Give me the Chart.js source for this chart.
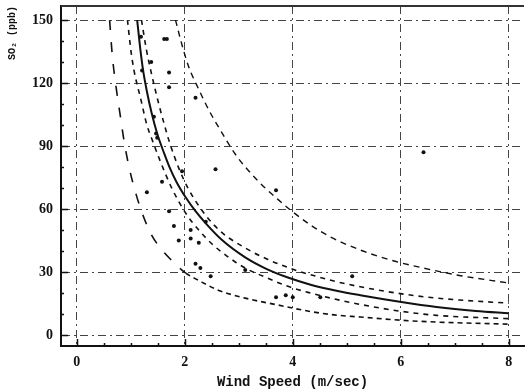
<!DOCTYPE html>
<html>
<head>
<meta charset="utf-8">
<script src="https://cdn.jsdelivr.net/npm/chart.js@4.4.1/dist/chart.umd.min.js"></script>
<style>
    html, body { margin: 0; padding: 0; background: #fff; }
    canvas { display: block; }
</style>
</head>
<body>
<canvas id="windChart" width="528" height="392"></canvas>
<script>
// tick labels
const xTicks = [0, 2, 4, 6, 8];
const yTicks = [0, 30, 60, 90, 120, 150];

// fitted curve (solid)
const fitWind = [1.12, 1.17, 1.23, 1.30, 1.39, 1.49, 1.62, 1.71, 1.85, 2.02, 2.2, 2.39, 2.68, 3.12, 3.49, 3.91, 4.33, 4.83, 5.25, 5.98, 6.66, 7.39, 8.0];
const fitSo2 = [150, 138, 126, 116, 105.5, 96, 86.5, 80.5, 72.8, 65.5, 59, 53.2, 45.5, 37, 31.8, 27.4, 24, 21, 19, 15.9, 13.4, 11.5, 10.4];

// upper confidence band
const upConfWind = [1.20, 1.29, 1.38, 1.52, 1.62, 1.71, 1.89, 2.07, 2.39, 2.68, 3.12, 3.54, 4.04, 4.46, 4.83, 5.25, 5.87, 6.48, 7.08, 8.0];
const upConfSo2 = [150, 136, 125, 110, 100.5, 92.5, 79.5, 69.5, 57, 49, 41.5, 36, 31, 27.8, 25.3, 23, 20.2, 18.1, 16.7, 15.2];

// lower confidence band
const lowConfWind = [0.94, 1.01, 1.06, 1.19, 1.30, 1.39, 1.56, 1.76, 2.02, 2.26, 2.50, 2.81, 3.12, 3.49, 3.91, 4.33, 4.77, 5.25, 5.98, 6.66, 8.0];
const lowConfSo2 = [150, 134.3, 126.2, 112, 100, 93.5, 82, 70, 58, 50, 43.5, 37.1, 31.9, 27.6, 23.2, 20, 17.2, 14.6, 11.4, 9.4, 7.8];

// upper prediction band
const upPredWind = [1.83, 1.93, 2.07, 2.26, 2.45, 2.65, 2.94, 3.17, 3.49, 3.73, 3.96, 4.33, 4.70, 5.25, 5.80, 6.42, 7.08, 8.0];
const upPredSo2 = [150, 140, 128, 117, 107, 98, 86, 78.6, 70, 64.5, 59.5, 52.4, 46.7, 40.5, 35.8, 31.9, 28.4, 24.8];

// lower prediction band
const lowPredWind = [0.61, 0.66, 0.73, 0.81, 0.88, 0.97, 1.10, 1.25, 1.39, 1.58, 1.76, 2.02, 2.26, 2.62, 3.12, 3.73, 4.33, 4.77, 5.25, 5.98, 6.66, 8.0];
const lowPredSo2 = [150, 133, 118, 104, 92, 80, 67, 55.5, 47.5, 40.5, 35.5, 29.5, 26, 21.4, 17.6, 14.3, 11.2, 9.6, 8.6, 7.1, 6.2, 5.2];

// observations
const obsWind = [1.19, 1.62, 1.67, 1.38, 1.21, 1.71, 1.71, 2.2, 1.43, 1.47, 1.49, 1.58, 1.30, 1.95, 1.71, 1.80, 2.11, 2.11, 1.89, 2.26, 2.2, 2.29, 3.69, 2.39, 2.48, 3.12, 3.69, 3.87, 4.0, 4.51, 2.57, 5.1, 6.42];
const obsSo2 = [142, 141, 141, 130, 126, 125, 118, 113, 104, 96, 94, 73, 68, 78, 59, 52, 50, 46, 45, 44, 34, 32, 69, 54, 28, 31, 18, 19, 18, 18, 79, 28, 87];

function pts(xs, ys) {
    return xs.map((x, i) => ({ x: x, y: ys[i] }));
}

function curve(xs, ys, dash, width) {
    return {
        type: 'line',
        data: pts(xs, ys),
        borderColor: '#111',
        borderWidth: width,
        borderDash: dash,
        pointRadius: 0,
        cubicInterpolationMode: 'monotone',
        fill: false
    };
}

// small ticks drawn inside the axes + top frame line
const innerTicks = {
    id: 'innerTicks',
    afterDraw(chart) {
        const { ctx, chartArea: a, scales: { x, y } } = chart;
        ctx.save();
        ctx.strokeStyle = '#111';
        ctx.lineWidth = 1.5;
        ctx.beginPath();
        for (let v = 0; v <= 8.01; v += 0.5) {
            const px = Math.round(x.getPixelForValue(v)) + 0.5;
            const len = (v % 2 === 0) ? 7 : 3;
            ctx.moveTo(px, a.bottom);
            ctx.lineTo(px, a.bottom - len);
        }
        for (let v = 0; v <= 150; v += 10) {
            const py = Math.round(y.getPixelForValue(v)) + 0.5;
            const len = (v % 30 === 0) ? 7 : 3;
            ctx.moveTo(a.left, py);
            ctx.lineTo(a.left + len, py);
        }
        ctx.stroke();
        // top frame
        ctx.lineWidth = 2;
        ctx.strokeStyle = '#333';
        ctx.beginPath();
        ctx.moveTo(a.left, a.top);
        ctx.lineTo(a.right, a.top);
        ctx.stroke();
        ctx.restore();
    }
};

const lowPred = curve(lowPredWind, lowPredSo2, [5, 4], 1.6);
lowPred.segment = {
    borderDash: c => c.p0.parsed.x < 1.95 ? [10, 12] : [5, 4]
};

const ctx = document.getElementById('windChart').getContext('2d');
const windChart = new Chart(ctx, {
    data: {
        datasets: [
            curve(fitWind, fitSo2, [], 2),
            curve(upConfWind, upConfSo2, [5, 5], 1.6),
            curve(lowConfWind, lowConfSo2, [5, 5], 1.6),
            curve(upPredWind, upPredSo2, [6, 5], 1.4),
            lowPred,
            {
                type: 'scatter',
                data: pts(obsWind, obsSo2),
                backgroundColor: '#111',
                borderColor: '#111',
                pointRadius: 2,
                pointBorderWidth: 0
            }
        ]
    },
    options: {
        responsive: false,
        animation: false,
        layout: { padding: { top: 6, right: 0, left: 0, bottom: 0 } },
        plugins: {
            legend: { display: false },
            tooltip: { enabled: false }
        },
        scales: {
            x: {
                type: 'linear',
                min: -0.29,
                max: 8.28,
                afterBuildTicks: s => { s.ticks = xTicks.map(v => ({ value: v })); },
                afterFit: s => { s.height = 46; s.paddingLeft = 0; s.paddingRight = 0; },
                grid: { color: '#444', lineWidth: 1, drawTicks: false },
                border: { display: true, color: '#111', width: 2, dash: [8, 4, 2, 4] },
                ticks: {
                    color: '#111',
                    padding: 8,
                    maxRotation: 0,
                    font: { family: 'Liberation Serif', size: 14, weight: 'bold' }
                },
                title: {
                    display: true,
                    text: 'Wind Speed (m/sec)',
                    color: '#111',
                    padding: { top: 0, bottom: 1 },
                    font: { family: 'Liberation Mono', size: 14, weight: 'bold' }
                }
            },
            y: {
                type: 'linear',
                min: -5.2,
                max: 156.7,
                afterBuildTicks: s => { s.ticks = yTicks.map(v => ({ value: v })); },
                afterFit: s => { s.width = 61; s.paddingTop = 0; s.paddingBottom = 0; },
                grid: { color: '#444', lineWidth: 1, drawTicks: false },
                border: { display: true, color: '#111', width: 2, dash: [8, 4, 2, 4] },
                ticks: {
                    color: '#111',
                    padding: 8,
                    font: { family: 'Liberation Serif', size: 14, weight: 'bold' }
                },
                title: {
                    display: true,
                    text: 'SO₂ (ppb)',
                    align: 'end',
                    color: '#111',
                    padding: { top: 6, bottom: 0 },
                    font: { family: 'Liberation Mono', size: 10, weight: 'bold' }
                }
            }
        }
    },
    plugins: [innerTicks]
});
</script>
</body>
</html>
